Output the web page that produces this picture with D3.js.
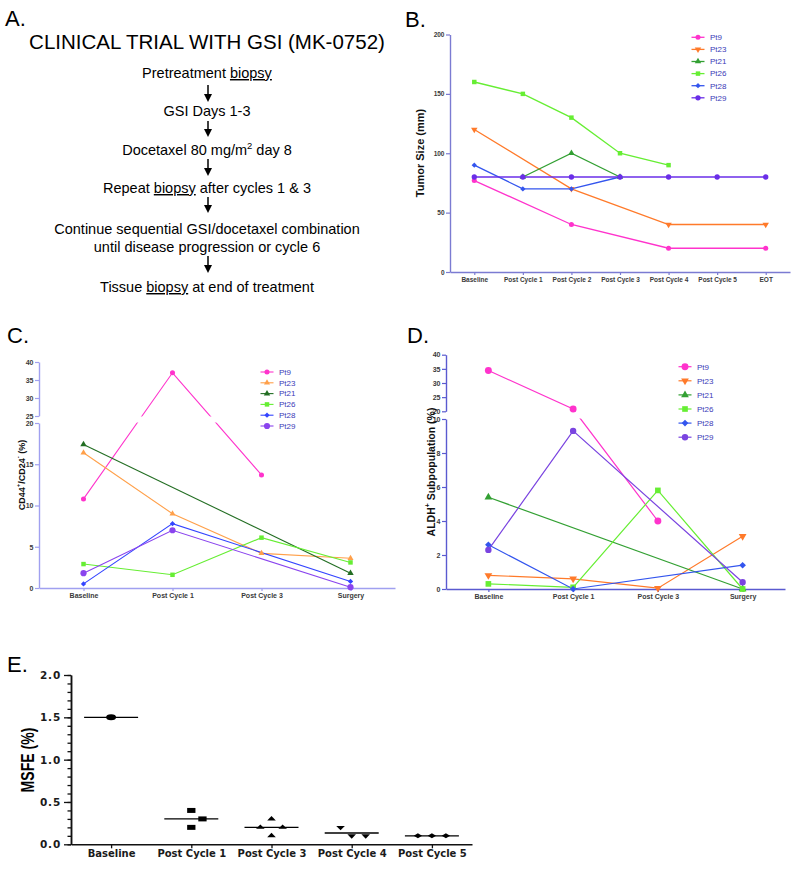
<!DOCTYPE html>
<html><head><meta charset="utf-8">
<script src="https://cdn.jsdelivr.net/npm/d3@7"></script>
<style>body{margin:0;background:#fff} svg{display:block} text{white-space:pre}</style>
</head><body>
<svg id="chart" width="800" height="869"></svg>
<script>
// ---------------- DATA ----------------
const flowTitle = "CLINICAL TRIAL WITH GSI (MK-0752)";
const flowSteps = [
  ["Pretreatment _biopsy_"],
  ["GSI Days 1-3"],
  ["Docetaxel 80 mg/m^2^ day 8"],
  ["Repeat _biopsy_ after cycles 1 & 3"],
  ["Continue sequential GSI/docetaxel combination", "until disease progression or cycle 6"],
  ["Tissue _biopsy_ at end of treatment"]
];
const patientNames = ["Pt9", "Pt23", "Pt21", "Pt26", "Pt28", "Pt29"];

// B: tumor size
const tumorCats = ["Baseline", "Post Cycle 1", "Post Cycle 2", "Post Cycle 3", "Post Cycle 4", "Post Cycle 5", "EOT"];
const tumorTicks = [0, 50, 100, 150, 200];
const tumorPt9  = [77, null, 40, null, 20, null, 20];
const tumorPt23 = [120, null, 70, null, 40, null, 40];
const tumorPt21 = [null, 80, 100, 80, null, null, null];
const tumorPt26 = [160, 150, 130, 100, 90, null, null];
const tumorPt28 = [90, 70, 70, 80, null, null, null];
const tumorPt29 = [80, 80, 80, 80, 80, 80, 80];

// C: CD44+/CD24-
const cdCats = ["Baseline", "Post Cycle 1", "Post Cycle 3", "Surgery"];
const cdTicksLow = [0, 5, 10, 15, 20];
const cdTicksHigh = [25, 30, 35, 40];
const cdPt9  = [10.8, 37, 13.7, null];
const cdPt23 = [16.4, 9.0, 4.2, 3.6];
const cdPt21 = [17.4, null, null, 1.8];
const cdPt26 = [2.9, 1.6, 6.1, 3.1];
const cdPt28 = [0.5, 7.8, null, 0.8];
const cdPt29 = [1.8, 7.0, null, 0.1];

// D: ALDH+
const alCats = ["Baseline", "Post Cycle 1", "Post Cycle 3", "Surgery"];
const alTicksLow = [0, 2, 4, 6, 8, 10];
const alTicksHigh = [20, 25, 30, 35, 40];
const alPt9  = [34.4, 20.8, 4.0, null];
const alPt23 = [0.8, 0.6, 0.05, 3.1];
const alPt21 = [5.4, null, null, 0.0];
const alPt26 = [0.3, 0.1, 5.8, 0.0];
const alPt28 = [2.6, 0.0, null, 1.4];
const alPt29 = [2.3, 9.3, null, 0.4];

// E: MSFE
const msfeCats = ["Baseline", "Post Cycle 1", "Post Cycle 3", "Post Cycle 4", "Post Cycle 5"];
const msfeTicks = [0, 0.5, 1.0, 1.5, 2.0];
const msfeValues = [[1.5], [0.4, 0.3, 0.2], [0.3, 0.1, 0.2, 0.2], [0.1, 0.1, 0.2], [0.1, 0.1, 0.1]];

// ---------------- DRAWING ----------------
const svg = d3.select("#chart");
const SANS = '"Liberation Sans", Arial, Helvetica, sans-serif';
const DEJA = '"DejaVu Sans", Verdana, sans-serif';

function richText(textSel, str, fs) {
  const parts = str.split(/(_[^_]+_|\^[^\^]+\^)/).filter(s => s.length);
  let shift = 0;
  parts.forEach(p => {
    let t;
    if (p[0] === "_") t = textSel.append("tspan").attr("text-decoration", "underline").text(p.slice(1, -1));
    else if (p[0] === "^") {
      t = textSel.append("tspan").attr("font-size", fs * 0.65).text(p.slice(1, -1));
      t.attr("dy", -fs * 0.4);
      shift = -fs * 0.4;
      return;
    } else t = textSel.append("tspan").text(p);
    if (shift) { t.attr("dy", -shift); shift = 0; }
  });
}

function panelLabel(x, y, s) {
  svg.append("text").attr("x", x).attr("y", y).attr("font-family", SANS).attr("font-size", 22).attr("fill", "#000").text(s);
}

const symTypes = {circle: d3.symbolCircle, tri: d3.symbolTriangle, triDown: d3.symbolTriangle, square: d3.symbolSquare, diamond: d3.symbolSquare};
function symPath(type, size) { return d3.symbol(symTypes[type], size)(); }
function symTransform(type, x, y, sy = 1) {
  const r = type === "triDown" ? 180 : (type === "diamond" ? 45 : 0);
  return `translate(${x},${y}) scale(1,${sy}) rotate(${r})`;
}

// ---- Panel A ----
panelLabel(5, 26, "A.");
svg.append("text").attr("x", 207).attr("y", 49).attr("text-anchor", "middle")
  .attr("font-family", SANS).attr("font-size", 20.5).attr("fill", "#000").text(flowTitle);
const stepBaselines = [78, 116, 155, 193, 233.5, 292];
const arrowSpans = [[85, 102], [121, 137], [159, 176], [197, 213], [256, 273]];
const flowFs = 14.5;
flowSteps.forEach((lines, i) => {
  lines.forEach((ln, k) => {
    const t = svg.append("text").attr("x", 207).attr("y", stepBaselines[i] + k * 18)
      .attr("text-anchor", "middle").attr("font-family", SANS).attr("font-size", flowFs).attr("fill", "#000");
    richText(t, ln, flowFs);
  });
});
arrowSpans.forEach(([a, b]) => {
  svg.append("line").attr("x1", 208).attr("x2", 208).attr("y1", a).attr("y2", b - 6).attr("stroke", "#000").attr("stroke-width", 1.5);
  svg.append("path").attr("d", `M204,${b - 8}L212,${b - 8}L208,${b}Z`).attr("fill", "#000");
});

// ---- generic line panel ----
function drawLinePanel(o) {
  const g = svg.append("g");
  const x = d3.scalePoint().domain(o.cats).range(o.xRange).padding(0.5);
  const low = o.yAxes[0].scale;
  const y = v => {
    for (const a of o.yAxes) { const d = a.scale.domain(); if (v >= d[0] - 1e-9 && v <= d[1] + 1e-9) return a.scale(v); }
    return low(v);
  };
  const x0 = o.xRange[0], yBase = low.range()[0];
  const axStyle = ax => {
    ax.attr("font-family", SANS).attr("font-size", o.tickFont).attr("font-weight", "bold");
    ax.select(".domain").attr("stroke", o.axisColor).attr("stroke-width", 1.4);
    ax.selectAll(".tick line").attr("stroke", o.axisColor).attr("stroke-width", 1.2);
    ax.selectAll(".tick text").attr("fill", "#3a3a3a");
  };
  o.yAxes.forEach(a => {
    g.append("g").attr("transform", `translate(${x0},0)`)
      .call(d3.axisLeft(a.scale).tickValues(a.ticks).tickSize(4).tickSizeOuter(0).tickPadding(1.5))
      .call(axStyle);
  });
  g.append("g").attr("transform", `translate(0,${yBase})`)
    .call(d3.axisBottom(x).tickSize(3).tickSizeOuter(0).tickPadding(2.5))
    .call(axStyle);
  const line = d3.line().x(d => x(d.c)).y(d => y(d.v));
  const pts = o.series.map(s => o.cats.map((c, j) => ({c, v: s[j]})).filter(d => d.v !== null));
  pts.forEach((p, i) => g.append("path").attr("d", line(p)).attr("fill", "none")
    .attr("stroke", o.colors[i]).attr("stroke-width", o.lineWidth));
  if (o.yAxes.length > 1) {
    const hi = o.yAxes[1].scale;
    const top = hi(hi.domain()[0]);
    const bot = low(low.domain()[1]);
    g.append("rect").attr("x", x0 + 1).attr("y", top + 0.5).attr("width", o.xRange[1] - x0 - 1)
      .attr("height", bot - top - 1).attr("fill", "#fff");
  }
  pts.forEach((p, i) => {
    g.selectAll(null).data(p).join("path")
      .attr("d", symPath(o.symbols[i], o.symSizes[i]))
      .attr("transform", d => symTransform(o.symbols[i], x(d.c), y(d.v)))
      .attr("fill", o.colors[i]);
  });
  o.names.forEach((n, i) => {
    const ly = o.legend.y0 + i * o.legend.dy;
    g.append("line").attr("x1", o.legend.x - 6.5).attr("x2", o.legend.x + 6.5).attr("y1", ly).attr("y2", ly)
      .attr("stroke", o.colors[i]).attr("stroke-width", o.lineWidth);
    g.append("path").attr("d", symPath(o.symbols[i], o.symSizes[i]))
      .attr("transform", symTransform(o.symbols[i], o.legend.x, ly)).attr("fill", o.colors[i]);
    g.append("text").attr("x", o.legend.x + 12).attr("y", ly).attr("dy", "0.35em")
      .attr("font-family", SANS).attr("font-size", 8).attr("fill", "#3b3bb8").text(n);
  });
  return g;
}

function yLabel(x, y, str, fs) {
  const t = svg.append("text").attr("transform", `translate(${x},${y}) rotate(-90)`)
    .attr("text-anchor", "middle").attr("dominant-baseline", "central")
    .attr("font-family", SANS).attr("font-size", fs).attr("font-weight", "bold").attr("fill", "#111");
  richText(t, str, fs);
}

// ---- Panel B ----
panelLabel(405, 27, "B.");
drawLinePanel({
  cats: tumorCats,
  series: [tumorPt9, tumorPt23, tumorPt21, tumorPt26, tumorPt28, tumorPt29],
  names: patientNames,
  colors: ["#ff33cc", "#ff7a2a", "#33a033", "#66ee33", "#3355ee", "#6a2ee8"],
  symbols: ["circle", "triDown", "tri", "square", "diamond", "circle"],
  symSizes: [20, 18, 18, 20, 14, 22],
  xRange: [450, 790],
  yAxes: [{scale: d3.scaleLinear().domain([0, 200]).range([272, 34.5]), ticks: tumorTicks}],
  axisColor: "#7b7bd2",
  tickFont: 6.5,
  lineWidth: 1.3,
  legend: {x: 698, y0: 37.3, dy: 12.1}
});
yLabel(419.5, 153, "Tumor Size (mm)", 11);

// ---- Panel C ----
panelLabel(7, 343, "C.");
drawLinePanel({
  cats: cdCats,
  series: [cdPt9, cdPt23, cdPt21, cdPt26, cdPt28, cdPt29],
  names: patientNames,
  colors: ["#ff33cc", "#ffa04a", "#236e23", "#66ee33", "#3344ff", "#8a44ee"],
  symbols: ["circle", "tri", "tri", "square", "diamond", "circle"],
  symSizes: [20, 16, 18, 20, 14, 30],
  xRange: [39, 395],
  yAxes: [
    {scale: d3.scaleLinear().domain([0, 20]).range([588, 423]), ticks: cdTicksLow},
    {scale: d3.scaleLinear().domain([25, 40]).range([416, 362]), ticks: cdTicksHigh}
  ],
  axisColor: "#a0a0f0",
  tickFont: 7,
  lineWidth: 1.1,
  legend: {x: 267, y0: 372, dy: 10.8}
});
yLabel(22, 475, "CD44^+^/CD24^-^ (%)", 9);

// ---- Panel D ----
panelLabel(407, 343, "D.");
drawLinePanel({
  cats: alCats,
  series: [alPt9, alPt23, alPt21, alPt26, alPt28, alPt29],
  names: patientNames,
  colors: ["#ff33cc", "#ff7a2a", "#33a033", "#66ee33", "#3355ee", "#7a44e0"],
  symbols: ["circle", "triDown", "tri", "square", "diamond", "circle"],
  symSizes: [38, 26, 26, 32, 22, 32],
  xRange: [446, 785],
  yAxes: [
    {scale: d3.scaleLinear().domain([0, 10]).range([589, 419]), ticks: alTicksLow},
    {scale: d3.scaleLinear().domain([20, 40]).range([411.3, 354.7]), ticks: alTicksHigh}
  ],
  axisColor: "#5a5ad0",
  tickFont: 7,
  lineWidth: 1.2,
  legend: {x: 685, y0: 366.7, dy: 14.1}
});
yLabel(431, 472, "ALDH^+^ Subpopulation (%)", 10.5);

// ---- Panel E ----
panelLabel(7, 672, "E.");
const ge = svg.append("g");
const xe = d3.scalePoint().domain(msfeCats).range([71, 472]).padding(0.5);
const ye = d3.scaleLinear().domain([0, 2]).range([844.3, 675]);
const eStyle = (ax, font) => {
  ax.attr("font-family", DEJA).attr("font-weight", "bold").attr("font-size", font);
  ax.select(".domain").attr("stroke", "#111").attr("stroke-width", 1.5);
  ax.selectAll(".tick line").attr("stroke", "#111").attr("stroke-width", 1.3);
  ax.selectAll(".tick text").attr("fill", "#1a1a1a");
};
ge.append("g").attr("transform", "translate(71,0)")
  .call(d3.axisLeft(ye).tickValues(d3.range(0, 21).map(i => i / 10)).tickSize(3.5).tickFormat("").tickSizeOuter(0))
  .call(ax => eStyle(ax, 10));
ge.append("g").attr("transform", "translate(71,0)")
  .call(d3.axisLeft(ye).tickValues(msfeTicks).tickSize(7).tickSizeOuter(0).tickPadding(3).tickFormat(d3.format(".1f")))
  .call(ax => { eStyle(ax, 10.5); ax.selectAll(".tick text").attr("letter-spacing", 0.8); });
ge.append("g").attr("transform", "translate(0,844.3)")
  .call(d3.axisBottom(xe).tickSize(4).tickSizeOuter(0).tickPadding(2))
  .call(ax => eStyle(ax, 10));

function swarm(vals, yFn, D) {
  const placed = [];
  return vals.map(v => {
    const yy = yFn(v);
    const cands = [0];
    placed.forEach(p => {
      const dy = Math.abs(p.y - yy);
      if (dy < D) { const dx = Math.sqrt(D * D - dy * dy); cands.push(p.x + dx, p.x - dx); }
    });
    cands.sort((a, b) => Math.abs(a) - Math.abs(b) || b - a);
    const ok = cands.find(c => placed.every(p => Math.hypot(p.x - c, p.y - yy) >= D - 1e-6));
    placed.push({x: ok, y: yy});
    return ok;
  });
}
const eSymbols = ["circle", "square", "tri", "triDown", "diamond"];
const eSizes = [78, 69, 32, 32, 35];
msfeValues.forEach((vals, i) => {
  const cx = xe(msfeCats[i]);
  const m = d3.mean(vals);
  ge.append("line").attr("x1", cx - 27).attr("x2", cx + 27).attr("y1", ye(m)).attr("y2", ye(m))
    .attr("stroke", "#000").attr("stroke-width", 1.4);
  const offs = swarm(vals, ye, 14);
  vals.forEach((v, k) => {
    ge.append("path").attr("d", symPath(eSymbols[i], eSizes[i]))
      .attr("transform", symTransform(eSymbols[i], cx + offs[k], ye(v), 0.6))
      .attr("fill", "#000");
  });
});
svg.append("text").attr("transform", "translate(28,760) rotate(-90) scale(0.74,1)")
  .attr("text-anchor", "middle").attr("dominant-baseline", "central")
  .attr("font-family", SANS).attr("font-size", 19).attr("font-weight", "bold").attr("fill", "#000")
  .text("MSFE (%)");
</script>
</body></html>
